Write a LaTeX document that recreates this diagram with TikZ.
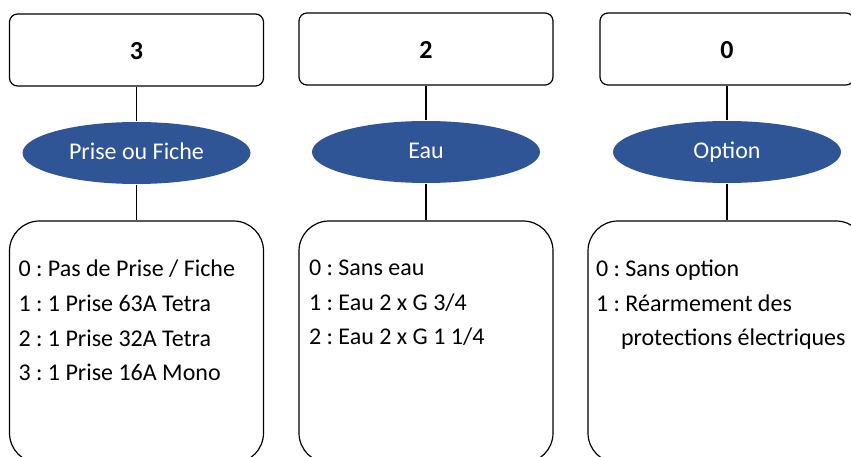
\documentclass[tikz,border=0pt]{standalone}
\usepackage{fontspec}
\setmainfont{Carlito}
\usetikzlibrary{shapes.geometric,positioning}
\definecolor{bleu}{RGB}{47,85,151}
\frenchspacing

\begin{document}
\begin{tikzpicture}[x=1pt,y=-1pt,line width=1.2pt,
  font=\fontsize{24}{34.7}\selectfont,
  valeur/.style={draw,rounded corners=8pt,minimum width=254pt,minimum height=72pt,
    font=\fontsize{26}{30}\selectfont\bfseries,text height=20pt,text depth=0pt},
  categorie/.style={ellipse,fill=bleu,text=white,minimum width=228pt,minimum height=62pt,inner sep=0pt,
    text height=15.5pt,text depth=3pt},
  liste/.style={draw,rounded corners=30pt,minimum width=254pt,minimum height=242pt},
  choix/.style={align=left,anchor=north west,inner sep=0pt}]
  \useasboundingbox (0,0) rectangle (851,457);
  % valeurs du code
  \node[valeur] (val1) at (136.5,50) {3};
  \node[valeur] (val2) at (426,49) {2};
  \node[valeur] (val3) at (727,49) {0};
  % categories
  \node[categorie] (cat1) at (136.5,153) {Prise ou Fiche};
  \node[categorie] (cat2) at (426,152) {Eau};
  \node[categorie] (cat3) at (727,152) {Option};
  % listes des choix
  \node[liste] (liste1) at (136.5,342) {};
  \node[liste] (liste2) at (426,342) {};
  \node[liste,minimum width=278pt] (liste3) at (727,342) {};
  \node[choix,below right=39pt and 9pt of liste1.north west] (texte1)
    {0 : Pas de Prise / Fiche\\1 : 1 Prise 63A Tetra\\2 : 1 Prise 32A Tetra\\3 : 1 Prise 16A Mono};
  \node[choix,below right=39pt and 10pt of liste2.north west] (texte2)
    {0 : Sans eau\\1 : Eau 2 x G 3/4\\2 : Eau 2 x G 1 1/4};
  \node[choix,below right=39pt and 8pt of liste3.north west] (texte3)
    {0 : Sans option\\1 : Réarmement des\\\hspace*{25pt}protections électriques};
  % liaisons
  \draw (val1) -- (cat1);
  \draw (cat1) -- (liste1);
  \draw (val2) -- (cat2);
  \draw (cat2) -- (liste2);
  \draw (val3) -- (cat3);
  \draw (cat3) -- (liste3);
\end{tikzpicture}
\end{document}
